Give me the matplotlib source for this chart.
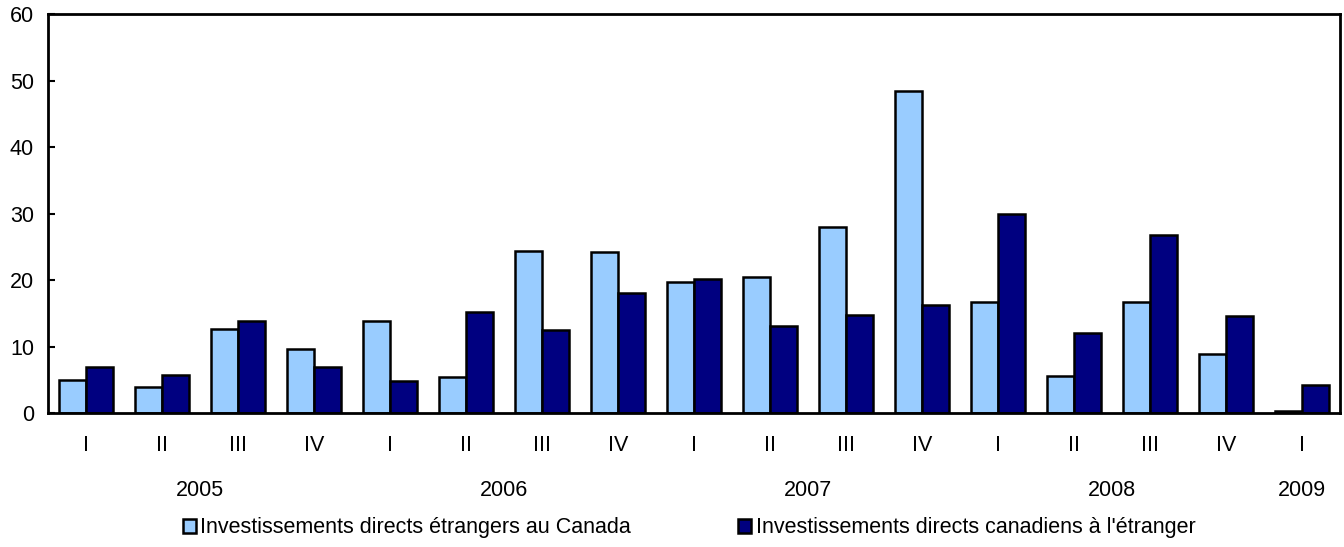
import matplotlib.pyplot as plt
import matplotlib.transforms as mtransforms
from matplotlib.patches import Patch
import numpy as np

plt.rcParams['font.family'] = ['Liberation Sans', 'DejaVu Sans']

quarters = ['I', 'II', 'III', 'IV', 'I', 'II', 'III', 'IV', 'I', 'II', 'III', 'IV',
            'I', 'II', 'III', 'IV', 'I']
years = ['2005', '2006', '2007', '2008', '2009']
year_pos = [1.5, 5.5, 9.5, 13.5, 16]
etrangers = [5.0, 3.9, 12.6, 9.6, 13.8, 5.4, 24.4, 24.2, 19.7, 20.5, 28.0, 48.4,
             16.7, 5.6, 16.7, 8.9, 0.3]
canadiens = [6.9, 5.7, 13.8, 6.9, 4.8, 15.2, 12.5, 18.0, 20.1, 13.1, 14.7, 16.2,
             29.9, 12.0, 26.8, 14.6, 4.2]
lab1 = "Investissements directs étrangers au Canada"
lab2 = "Investissements directs canadiens à l'étranger"

light = '#99CCFF'
dark = '#000080'
fs = 15.5

fig = plt.figure(figsize=(13.44, 5.47), dpi=100)
ax = fig.add_axes([0.0357, 0.245, 0.9613, 0.729])

x = np.arange(len(quarters))
w = 0.355
ax.bar(x - w / 2, etrangers, w, color=light, edgecolor='black', linewidth=1.8)
ax.bar(x + w / 2, canadiens, w, color=dark, edgecolor='black', linewidth=1.8)

ax.set_xlim(-0.5, len(quarters) - 0.5)
ax.set_ylim(0, 60)
ax.set_yticks(range(0, 61, 10))
ax.tick_params(axis='y', direction='in', length=5, width=1.5, labelsize=fs, pad=10)
ax.set_xticks(x)
ax.set_xticklabels(quarters)
ax.tick_params(axis='x', length=0, labelsize=fs, pad=16)
for s in ax.spines.values():
    s.set_linewidth(2)

trans = mtransforms.blended_transform_factory(ax.transData, ax.transAxes)
for yr, p in zip(years, year_pos):
    ax.text(p, -0.195, yr, transform=trans, ha='center', va='center', fontsize=fs)

handles = [Patch(facecolor=light, edgecolor='black', linewidth=1.8, label=lab1),
           Patch(facecolor=dark, edgecolor='black', linewidth=1.8, label=lab2)]
fig.legend(handles=handles, loc='center left', bbox_to_anchor=(0.136, 0.035), ncol=2,
           frameon=False, fontsize=fs, handlelength=0.6, handleheight=0.6,
           handletextpad=0.2, columnspacing=5.0, borderpad=0, borderaxespad=0)

fig.savefig('out.png', dpi=100)
